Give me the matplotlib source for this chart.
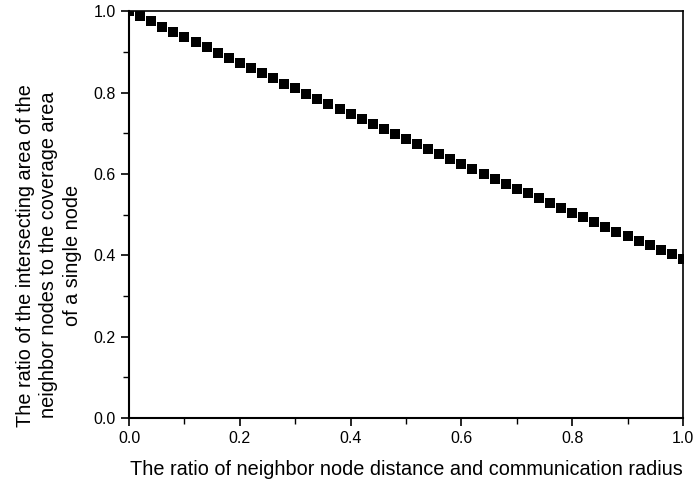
import matplotlib
matplotlib.use('Agg')
import matplotlib.pyplot as plt
from matplotlib.ticker import MultipleLocator

plt.rcParams['font.family'] = ['Liberation Sans', 'DejaVu Sans']

# distance / radius ratio, step 0.02
ratio_d = [0.00, 0.02, 0.04, 0.06, 0.08, 0.10, 0.12, 0.14, 0.16, 0.18,
           0.20, 0.22, 0.24, 0.26, 0.28, 0.30, 0.32, 0.34, 0.36, 0.38,
           0.40, 0.42, 0.44, 0.46, 0.48, 0.50, 0.52, 0.54, 0.56, 0.58,
           0.60, 0.62, 0.64, 0.66, 0.68, 0.70, 0.72, 0.74, 0.76, 0.78,
           0.80, 0.82, 0.84, 0.86, 0.88, 0.90, 0.92, 0.94, 0.96, 0.98,
           1.00]
# intersecting area / coverage area
area_ratio = [1.000, 0.987, 0.975, 0.962, 0.949, 0.936, 0.924, 0.911, 0.898, 0.886,
              0.873, 0.860, 0.848, 0.835, 0.822, 0.810, 0.797, 0.785, 0.772, 0.760,
              0.747, 0.735, 0.722, 0.710, 0.697, 0.685, 0.673, 0.661, 0.648, 0.636,
              0.624, 0.612, 0.600, 0.588, 0.576, 0.564, 0.552, 0.540, 0.528, 0.516,
              0.505, 0.493, 0.481, 0.470, 0.458, 0.447, 0.436, 0.424, 0.413, 0.402,
              0.391]

fig = plt.figure(figsize=(6.94, 4.86), dpi=100)
ax = fig.add_axes([0.186, 0.140, 0.798, 0.837])

ax.plot(ratio_d, area_ratio, linestyle='none', marker='s', markersize=6.6,
        markeredgewidth=0, color='black')

ax.set_xlim(0, 1.0)
ax.set_ylim(0, 1.0)
ax.xaxis.set_major_locator(MultipleLocator(0.2))
ax.xaxis.set_minor_locator(MultipleLocator(0.1))
ax.yaxis.set_major_locator(MultipleLocator(0.2))
ax.yaxis.set_minor_locator(MultipleLocator(0.1))
ax.tick_params(which='major', direction='out', length=6, width=1.2, labelsize=11.5)
ax.tick_params(which='minor', direction='out', length=4, width=1.0)

for side in ['left', 'bottom']:
    ax.spines[side].set_linewidth(1.5)
for side in ['top', 'right']:
    ax.spines[side].set_linewidth(1.2)

ax.set_xlabel('The ratio of neighbor node distance and communication radius',
              fontsize=14.3, labelpad=10)

# y label sits a bit below the axes centre in the original
fig.text(0.070, 0.475,
         'The ratio of the intersecting area of the\n'
         'neighbor nodes to the coverage area\nof a single node',
         fontsize=14.3, rotation=90, ha='center', va='center',
         multialignment='center', linespacing=1.3)

fig.savefig('out.png', dpi=100)
